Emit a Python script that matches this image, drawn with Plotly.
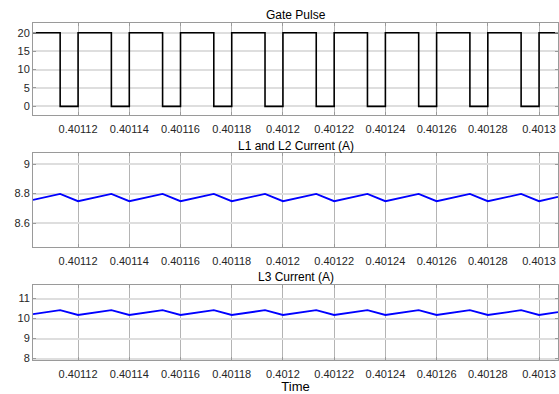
import plotly.graph_objects as go

# ---- data ----
x_tick_vals = [0.40112, 0.40114, 0.40116, 0.40118, 0.4012, 0.40122, 0.40124, 0.40126, 0.40128, 0.4013]
x_tick_text = ["0.40112", "0.40114", "0.40116", "0.40118", "0.4012", "0.40122", "0.40124", "0.40126", "0.40128", "0.4013"]
x_range = [0.4011024, 0.4013074]

# gate pulse (step, 'hv'): transition instants and the level after each
gate_t = [0.4011024, 0.401113, 0.40112, 0.401133, 0.40114, 0.401153, 0.40116, 0.401173, 0.40118,
          0.401193, 0.4012, 0.401213, 0.40122, 0.401233, 0.40124, 0.401253, 0.40126, 0.401273,
          0.40128, 0.401293, 0.4013, 0.4013074]
gate_v = [20, 0, 20, 0, 20, 0, 20, 0, 20, 0, 20, 0, 20, 0, 20, 0, 20, 0, 20, 0, 20, 20]

# inductor currents: vertices at the same instants
cur_t = gate_t
l12_v = [8.757, 8.797, 8.748, 8.797, 8.748, 8.797, 8.748, 8.797, 8.748, 8.797, 8.748,
         8.797, 8.748, 8.797, 8.748, 8.797, 8.748, 8.797, 8.748, 8.797, 8.748, 8.777]
l3_v = [10.22, 10.42, 10.18, 10.42, 10.18, 10.42, 10.18, 10.42, 10.18, 10.42, 10.18,
        10.42, 10.18, 10.42, 10.18, 10.42, 10.18, 10.42, 10.18, 10.42, 10.18, 10.32]

gate_ticks = [0, 5, 10, 15, 20]
l12_ticks = [8.6, 8.8, 9]
l3_ticks = [8, 9, 10, 11]

titles = ["Gate Pulse", "L1 and L2 Current (A)", "L3 Current (A)"]

# ---- figure ----
W, H = 559, 394
fig = go.Figure()
fig.add_trace(go.Scatter(x=gate_t, y=gate_v, mode="lines", line=dict(color="black", width=1.6, shape="hv"),
                         xaxis="x", yaxis="y", showlegend=False))
fig.add_trace(go.Scatter(x=cur_t, y=l12_v, mode="lines", line=dict(color="#0000ff", width=1.8),
                         xaxis="x2", yaxis="y2", showlegend=False))
fig.add_trace(go.Scatter(x=cur_t, y=l3_v, mode="lines", line=dict(color="#0000ff", width=1.8),
                         xaxis="x3", yaxis="y3", showlegend=False))

def dom(top_px, bot_px):
    return [1 - bot_px / H, 1 - top_px / H]

domains = [dom(23, 116), dom(155, 249.3), dom(288.3, 363.7)]
yranges = [[-2.3, 22.7], [8.439, 9.072], [7.93, 11.66]]
yticks = [gate_ticks, l12_ticks, l3_ticks]

tick_font = dict(family="Liberation Sans, Arial, sans-serif", size=11, color="#262626")
layout = dict(
    width=W, height=H,
    margin=dict(l=33, r=1, t=0, b=0),
    paper_bgcolor="white", plot_bgcolor="white",
    font=dict(family="Liberation Sans, Arial, sans-serif", size=11, color="#262626"),
    showlegend=False,
)
for i in range(3):
    sx = "" if i == 0 else str(i + 1)
    layout["xaxis" + sx] = dict(
        domain=[0, 1], range=x_range, anchor="y" + sx,
        tickmode="array", tickvals=x_tick_vals, ticktext=x_tick_text,
        showgrid=True, gridcolor="#b4b4b4", gridwidth=1,
        showline=True, linecolor="#9a9a9a", linewidth=1, mirror="ticks",
        ticks="inside", ticklen=3, tickcolor="#9a9a9a",
        tickfont=tick_font, zeroline=False, ticklabelstandoff=4,
    )
    layout["yaxis" + sx] = dict(
        domain=domains[i], range=yranges[i], anchor="x" + sx,
        tickmode="array", tickvals=yticks[i],
        showgrid=True, gridcolor="#dedede", gridwidth=1.5,
        showline=True, linecolor="#9a9a9a", linewidth=1, mirror="ticks",
        ticks="inside", ticklen=3, tickcolor="#9a9a9a",
        tickfont=tick_font, zeroline=False,
    )
layout["xaxis3"]["title"] = dict(text="Time", font=dict(size=13, color="black"), standoff=2)

ann = []
title_y = [15, 147, 280]
for t, yp in zip(titles, title_y):
    ann.append(dict(text=t, x=0.5, xref="paper", y=1 - yp / H, yref="paper", showarrow=False,
                    xanchor="center", yanchor="middle", font=dict(size=12, color="black")))
layout["annotations"] = ann

fig.update_layout(**layout)
fig.write_html("out.html", config={"displayModeBar": False})

# remove the browser's default page margin so the figure sits at the window's corner
with open("out.html", "r", encoding="utf-8") as f:
    html = f.read()
html = html.replace("<head>", "<head><style>html,body{margin:0;padding:0;overflow:hidden;}</style>", 1)
with open("out.html", "w", encoding="utf-8") as f:
    f.write(html)
